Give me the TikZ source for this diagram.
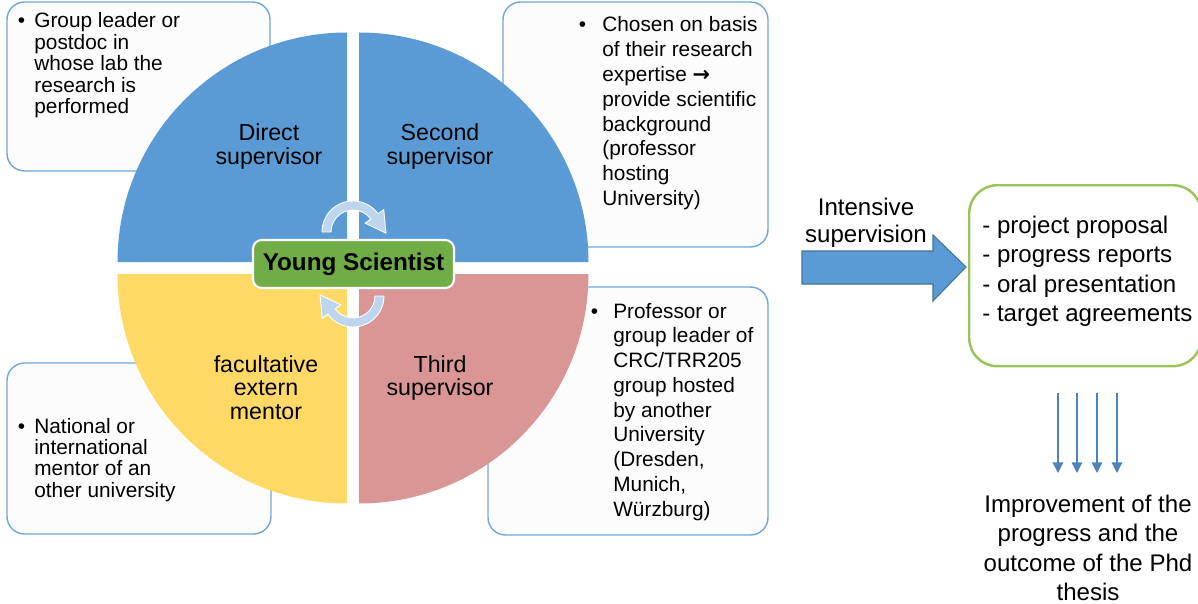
\documentclass[tikz,border=0pt]{standalone}
\usepackage{fontspec}
\setmainfont{Liberation Sans}
\newfontfamily\arrowfont{DejaVu Sans}
\usepackage{xcolor}
\usepackage{tikz}
\usetikzlibrary{arrows.meta, positioning}
\definecolor{qblue}{RGB}{91, 155, 213}
\definecolor{qyellow}{RGB}{255, 217, 102}
\definecolor{qpink}{RGB}{217, 150, 148}
\definecolor{ysgreen}{RGB}{112, 173, 71}
\definecolor{taskgreen}{RGB}{155, 195, 90}
\definecolor{noteline}{RGB}{112, 166, 220}
\definecolor{cyc}{RGB}{189, 213, 238}
\definecolor{arrowline}{RGB}{65, 113, 156}
\definecolor{fanblue}{RGB}{79, 129, 189}
\newcommand{\notelines}[2]{\begin{tabular}[t]{@{}p{#1}@{}l@{}}\textbullet & #2\end{tabular}}

\tikzset{
  cyclearrow/.pic={
    \filldraw[fill=cyc, draw=white, line width=0.5pt]
      (180:31) arc[start angle=180, end angle=36, radius=31]
      -- (36:38) -- (-2:33) -- (36:15) -- (36:22)
      arc[start angle=36, end angle=180, radius=22] -- cycle;
  }
}

\begin{document}
\begin{tikzpicture}[x=0.02cm, y=0.02cm,
  notebox/.style={draw=noteline, fill=white!99!black, line width=0.8pt, rounded corners=10pt},
  notetight/.style={anchor=base west, inner sep=0pt, font=\fontsize{11.85}{12.1}\selectfont},
  noteloose/.style={anchor=base west, inner sep=0pt, font=\fontsize{11.85}{14.1}\selectfont},
  quadlbl/.style={anchor=base, inner sep=0pt, font=\fontsize{13.2}{13.5}\selectfont},
  biglbl/.style={inner sep=0pt, font=\fontsize{13.7}{16.8}\selectfont},
  fanarrow/.style={fanblue, line width=0.7pt, -{Triangle[width=6pt, length=6pt]}}]
\useasboundingbox (0,0) rectangle (1198,603);

% note boxes behind the circle
\draw[notebox] (7,601) rectangle (270,432);
\draw[notebox] (503,601) rectangle (768,356);
\draw[notebox] (488,316) rectangle (768,68);
\draw[notebox] (7,240) rectangle (271,69);

\node[notetight] (directnote) at (17.5,575) {\notelines{9.4pt}{Group leader or\\ & postdoc in\\ & whose lab the\\ & research is\\ & performed}};
\node[noteloose] (secondnote) at (578.5,571) {\notelines{13.4pt}{Chosen on basis\\ & of their research\\ & expertise {\arrowfont\bfseries →}\\ & provide scientific\\ & background\\ & (professor\\ & hosting\\ & University)}};
\node[noteloose] (thirdnote) at (590.5,285) {\notelines{12.8pt}{Professor or\\ & group leader of\\ & CRC/TRR205\\ & group hosted\\ & by another\\ & University\\ & (Dresden,\\ & Munich,\\ & Würzburg)}};
\node[notetight] (mentornote) at (17.5,170) {\notelines{9.4pt}{National or\\ & international\\ & mentor of an\\ & other university}};

% the four quadrants
\foreach \cx/\cy/\a/\col in {359/341/0/qblue, 347/341/90/qblue, 347/329/180/qyellow, 359/329/270/qpink} {
  \fill[\col] (\cx,\cy) -- ++(\a:229.5) arc[start angle=\a, delta angle=90, radius=229.5] -- cycle;
}

\node[quadlbl] (directlbl) at (269,462) {\begin{tabular}[t]{@{}c@{}}Direct\\supervisor\end{tabular}};
\node[quadlbl] (secondlbl) at (440,462) {\begin{tabular}[t]{@{}c@{}}Second\\supervisor\end{tabular}};
\node[quadlbl] (mentorlbl) at (266,231) {\begin{tabular}[t]{@{}c@{}}facultative\\extern\\mentor\end{tabular}};
\node[quadlbl] (thirdlbl) at (440,231) {\begin{tabular}[t]{@{}c@{}}Third\\supervisor\end{tabular}};

% cycle arrows and centre box
\pic at (353,371) {cyclearrow};
\pic[rotate=180] at (353,307) {cyclearrow};
\node[fill=ysgreen, draw=white, line width=1.2pt, rounded corners=5pt,
      minimum width=4.02cm, minimum height=0.96cm, inner sep=0pt,
      font=\fontsize{13.8}{16}\selectfont\bfseries] (youngsci) at (353.5,339) {Young Scientist};

% intensive supervision
\draw[fill=qblue, draw=arrowline, line width=0.6pt] (802,352) -- (933,352) -- (933,368) -- (966,336)
  -- (933,302) -- (933,319) -- (802,319) -- cycle;
\node[biglbl, anchor=base, font=\fontsize{13.7}{15.9}\selectfont] (intlbl) at (866,388)
  {\begin{tabular}[t]{@{}c@{}}Intensive\\supervision\end{tabular}};

% tasks
\node[draw=taskgreen, line width=1.4pt, rounded corners=16pt, anchor=north west,
      minimum width=4.64cm, minimum height=3.62cm, inner sep=0pt] (tasks) at (968,419) {};
\node[biglbl, anchor=base west] (taskstxt) at (982,370)
  {\begin{tabular}[t]{@{}l@{}}- project proposal\\- progress reports\\- oral presentation\\- target agreements\end{tabular}};

% outcome
\coordinate (fanend) at (1087,130);
\foreach \x in {1058,1077,1097,1117} {
  \draw[fanarrow, shorten <=0.52cm] (tasks.south -| \x,0) -- (fanend -| \x,0);
}
\node[biglbl, anchor=base] (outcome) at (1088,91)
  {\begin{tabular}[t]{@{}c@{}}Improvement of the\\progress and the\\outcome of the Phd\\thesis\end{tabular}};
\end{tikzpicture}
\end{document}
